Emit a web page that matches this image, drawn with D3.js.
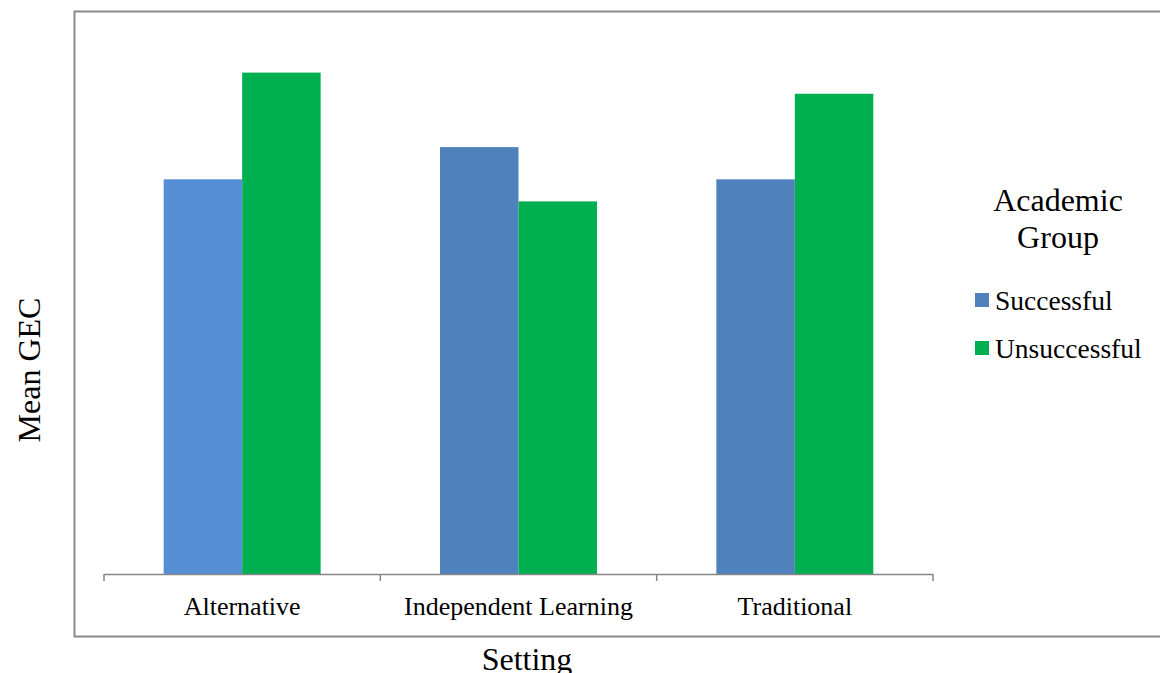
<!DOCTYPE html>
<html>
<head>
<meta charset="utf-8">
<script src="https://cdn.jsdelivr.net/npm/d3@7"></script>
<style>
  body { margin: 0; background: #fff; }
  svg { display: block; }
  svg text { font-family: "Liberation Serif", "Times New Roman", serif; fill: #000; }
</style>
</head>
<body>
<div id="chart"></div>
<script>
// Data (Mean GEC, no visible value axis)
const settings = ["Alternative", "Independent Learning", "Traditional"];
const groups = ["Successful", "Unsuccessful"];
const successful = [42.9, 46.4, 42.9];
const unsuccessful = [54.5, 40.5, 52.2];

const width = 1160, height = 673;
const plot = { left: 104, right: 933, top: 22, bottom: 574 };

const svg = d3.select("#chart")
  .append("svg")
  .attr("width", width)
  .attr("height", height);

// outer chart frame
svg.append("rect")
  .attr("x", 74.5)
  .attr("y", 11.5)
  .attr("width", 1100)
  .attr("height", 625)
  .attr("fill", "none")
  .attr("stroke", "#8a8a8a")
  .attr("stroke-width", 2);

const x = d3.scaleBand()
  .domain(settings)
  .range([plot.left, plot.right])
  .paddingInner(0.432)
  .paddingOuter(0.216);

const xGroup = d3.scaleBand()
  .domain(groups)
  .range([0, x.bandwidth()]);

const y = d3.scaleLinear()
  .domain([0, 60])
  .range([plot.bottom, plot.top]);

const color = d3.scaleOrdinal().domain(groups).range(["#4F81BD", "#00B050"]);
// first successful bar is drawn in a lighter blue in the original
const barColor = (g, i) => (g === "Successful" && i === 0 ? "#558ED5" : color(g));

const rows = settings.map((s, i) => ({
  setting: s,
  i: i,
  values: [
    { group: "Successful", value: successful[i] },
    { group: "Unsuccessful", value: unsuccessful[i] },
  ],
}));

const cat = svg.selectAll(".cat")
  .data(rows)
  .enter()
  .append("g")
  .attr("class", "cat")
  .attr("transform", (d) => `translate(${x(d.setting)},0)`);

cat.selectAll("rect")
  .data((d) => d.values.map((v) => ({ ...v, i: d.i })))
  .enter()
  .append("rect")
  .attr("x", (d) => xGroup(d.group))
  .attr("y", (d) => y(d.value))
  .attr("width", xGroup.bandwidth())
  .attr("height", (d) => y(0) - y(d.value))
  .attr("fill", (d) => barColor(d.group, d.i));

// category axis: baseline with ticks between categories
const xAxis = d3.axisBottom(x).tickSize(0).tickPadding(0).tickFormat("");
const axisG = svg.append("g")
  .attr("transform", `translate(0,${plot.bottom})`)
  .call(xAxis);
axisG.select(".domain").remove();
axisG.selectAll(".tick").remove();

axisG.append("line")
  .attr("x1", plot.left)
  .attr("x2", plot.right)
  .attr("y1", 0.5)
  .attr("y2", 0.5)
  .attr("stroke", "#868686")
  .attr("stroke-width", 1.5);

const step = x.step();
const tickXs = d3.range(settings.length + 1).map((k) => plot.left + k * step);
axisG.selectAll(".sep")
  .data(tickXs)
  .enter()
  .append("line")
  .attr("class", "sep")
  .attr("x1", (d) => d)
  .attr("x2", (d) => d)
  .attr("y1", 0)
  .attr("y2", 7)
  .attr("stroke", "#868686")
  .attr("stroke-width", 1.5);

axisG.selectAll(".lbl")
  .data(settings)
  .enter()
  .append("text")
  .attr("class", "lbl")
  .attr("x", (d) => x(d) + x.bandwidth() / 2)
  .attr("y", 41)
  .attr("text-anchor", "middle")
  .style("font-size", "26px")
  .text((d) => d);

// axis titles
svg.append("text")
  .attr("x", 527)
  .attr("y", 670)
  .attr("text-anchor", "middle")
  .style("font-size", "32px")
  .text("Setting");

svg.append("text")
  .attr("transform", "rotate(-90)")
  .attr("x", -370)
  .attr("y", 40)
  .attr("text-anchor", "middle")
  .style("font-size", "32px")
  .text("Mean GEC");

// legend
const legend = svg.append("g").attr("transform", "translate(975,0)");
legend.append("text")
  .attr("x", 83)
  .attr("y", 211)
  .attr("text-anchor", "middle")
  .style("font-size", "32px")
  .text("Academic");
legend.append("text")
  .attr("x", 83)
  .attr("y", 248)
  .attr("text-anchor", "middle")
  .style("font-size", "32px")
  .text("Group");

const items = legend.selectAll(".item")
  .data(groups)
  .enter()
  .append("g")
  .attr("class", "item")
  .attr("transform", (d, i) => `translate(0,${293 + i * 48})`);

items.append("rect")
  .attr("width", 14)
  .attr("height", 14)
  .attr("fill", (d) => color(d));

items.append("text")
  .attr("x", 20)
  .attr("y", 17)
  .style("font-size", "27.5px")
  .text((d) => d);
</script>
</body>
</html>
